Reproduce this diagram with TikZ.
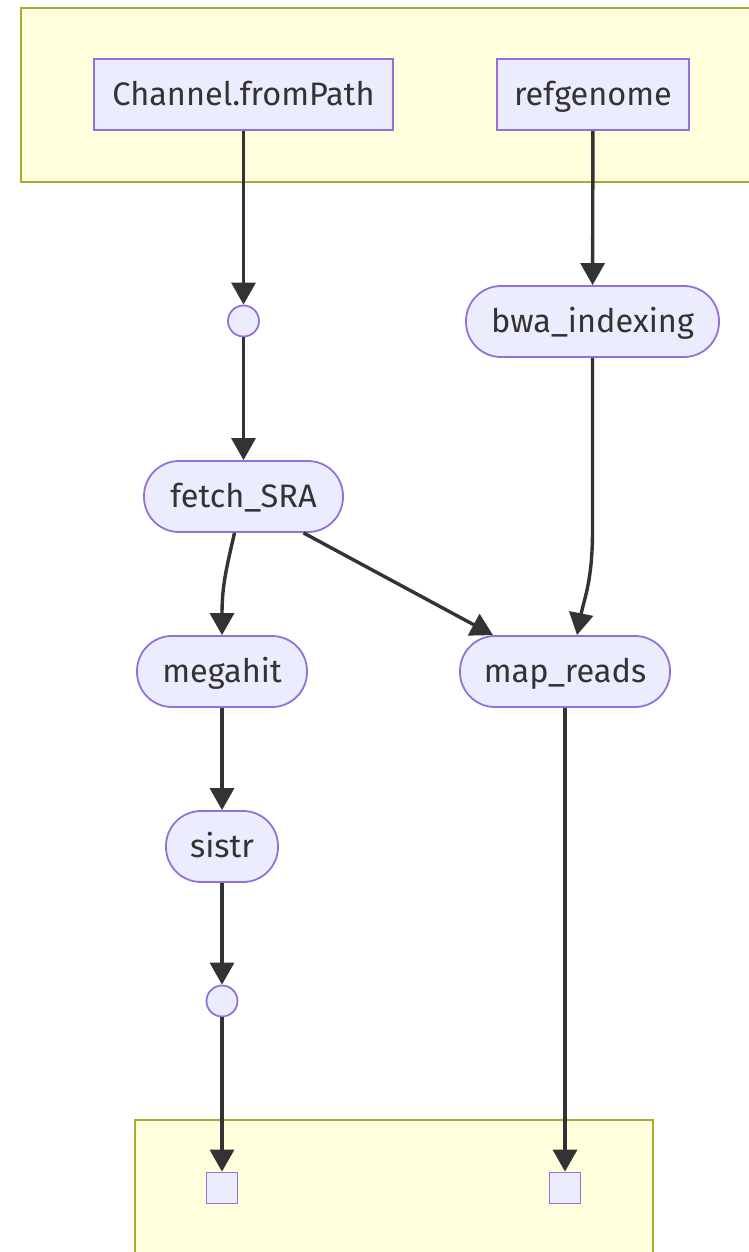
\documentclass[tikz,border=0pt]{standalone}
\usepackage{fontspec}
\setmainfont{Fira Sans}
\usetikzlibrary{arrows.meta,calc}
\definecolor{grpfill}{HTML}{FFFFDE}
\definecolor{grpline}{HTML}{AAAA33}
\definecolor{nodefill}{HTML}{ECECFF}
\definecolor{nodeline}{HTML}{9370DB}
\definecolor{ink}{HTML}{333333}
\tikzset{
  group/.style={fill=grpfill, draw=grpline, line width=1.8pt},
  base/.style={fill=nodefill, draw=nodeline, line width=1.8pt, text=ink,
    font=\fontsize{32.5}{38}\selectfont, inner sep=0pt, minimum height=71pt,
    text height=23pt, text depth=1pt},
  boxnode/.style={base, rectangle},
  stadium/.style={base, rectangle, rounded corners=35pt},
  junction/.style={fill=nodefill, draw=nodeline, line width=1.8pt, circle,
    minimum size=31pt, inner sep=0pt},
  endpoint/.style={fill=nodefill, draw=nodeline, line width=1.8pt, rectangle,
    minimum size=31pt, inner sep=0pt},
  flow/.style={draw=ink, line width=3.4pt,
    -{Triangle[width=24pt,length=22pt]}},
}
\begin{document}
\begin{tikzpicture}[x=1pt, y=-1pt]
  \useasboundingbox (0,0) rectangle (749,1252);
  \clip (0,0) rectangle (749,1252);

  % input and output groups
  \draw[group] (21,8) rectangle (770,182);
  \draw[group] (135,1120) rectangle (653,1270);

  % process nodes
  \node[boxnode, minimum width=299pt] (chan) at (243.5,94.5) {Channel.fromPath};
  \node[boxnode, minimum width=192pt] (ref) at (593,94.5) {refgenome};
  \node[junction] (j1) at (243.5,321) {};
  \node[stadium, minimum width=253pt] (bwa) at (592.5,321.5) {bwa\_indexing};
  \node[stadium, minimum width=199pt] (fetch) at (243.5,496.5) {fetch\_SRA};
  \node[stadium, minimum width=170pt] (mega) at (222,671.5) {megahit};
  \node[stadium, minimum width=210pt] (mapr) at (565,671.5) {map\_reads};
  \node[stadium, minimum width=112pt] (sistr) at (222,846.5) {sistr};
  \node[junction] (j2) at (222,1001) {};
  \node[endpoint] (outL) at (222,1188) {};
  \node[endpoint] (outR) at (565,1188) {};

  % connectors
  \draw[flow] (chan) -- (j1);
  \draw[flow] (j1) -- (fetch);
  \draw[flow] (ref) -- (bwa);
  \draw[flow] (bwa.south) -- ($(bwa.south)+(0,173)$)
    .. controls ($(bwa.south)+(0,223)$) and ($(mapr.north)+(19,-36)$) .. ($(mapr.north)+(12,0)$);
  \draw[flow] ($(fetch.south)+(-9,0)$)
    .. controls ($(fetch.south)+(-17,35)$) and ($(mega.north)+(0,-50)$) .. (mega.north);
  \draw[flow] ($(fetch.south)+(60,0)$) -- ($(mapr.north)+(-72,0)$);
  \draw[flow] (mega) -- (sistr);
  \draw[flow] (sistr) -- (j2);
  \draw[flow] (j2) -- (outL);
  \draw[flow] (mapr) -- (outR);
\end{tikzpicture}
\end{document}
